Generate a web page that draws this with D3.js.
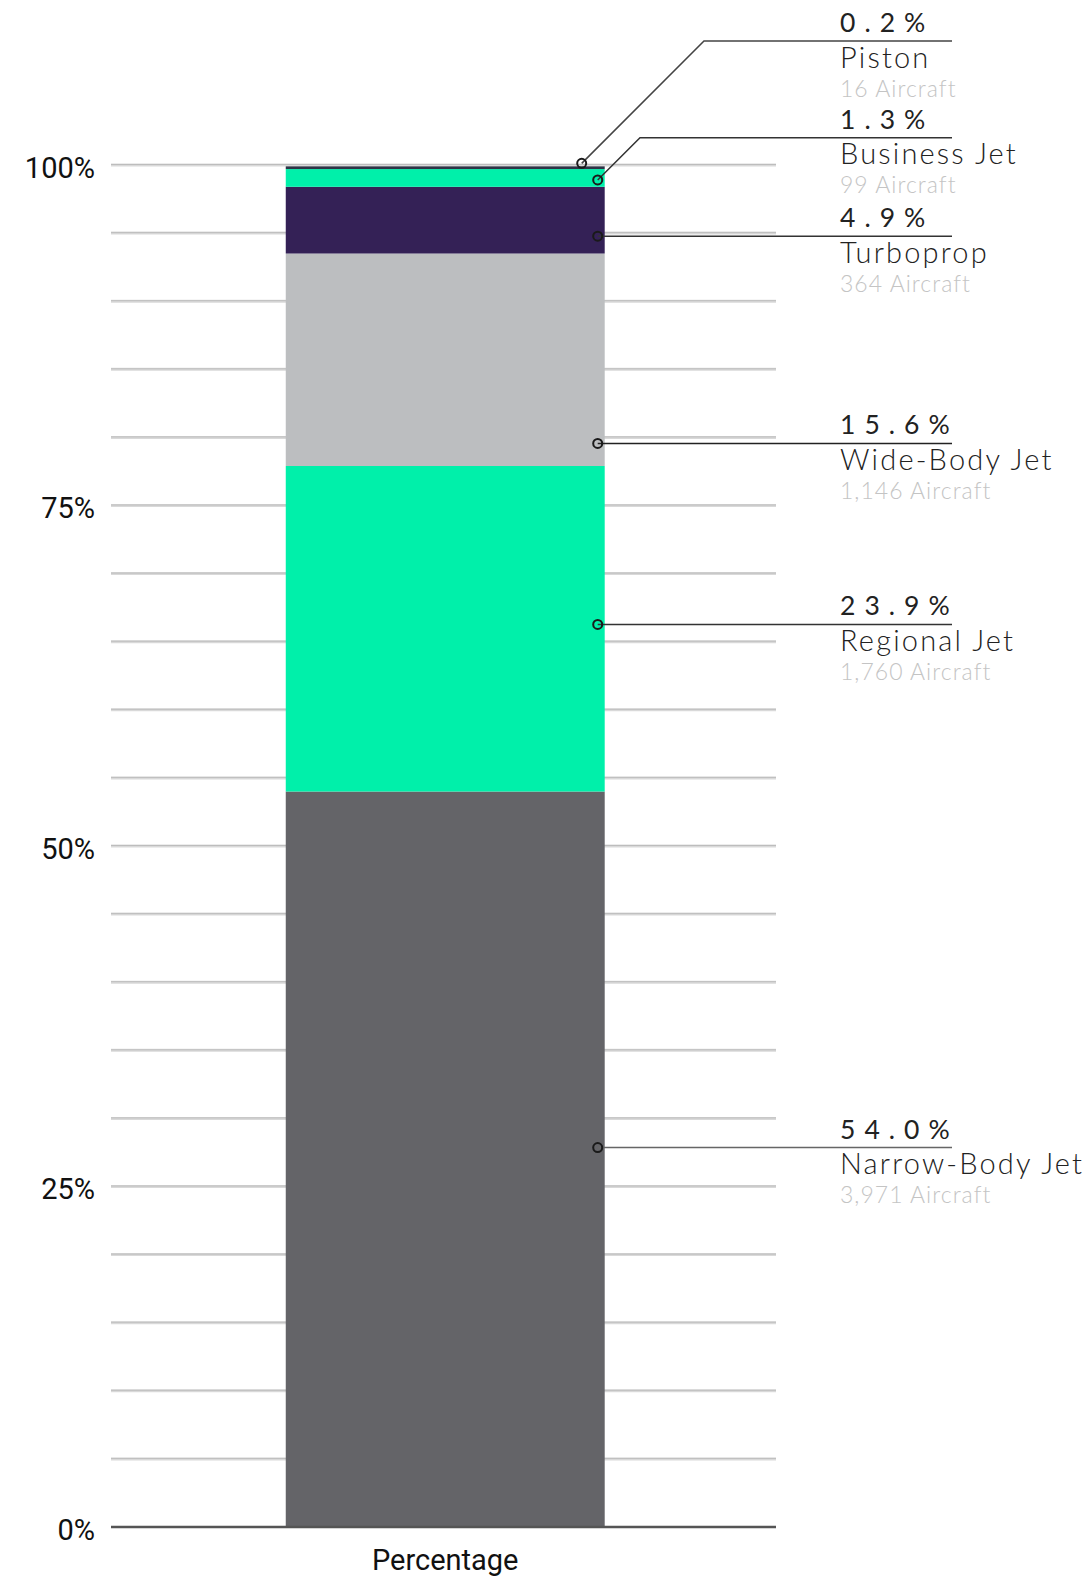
<!DOCTYPE html>
<html>
<head>
<meta charset="utf-8">
<script src="https://cdn.jsdelivr.net/npm/d3@7"></script>
<style>
  html, body { margin: 0; padding: 0; background: #ffffff; }
  svg { display: block; }
</style>
</head>
<body>
<svg id="chart" width="1088" height="1577"></svg>
<script>
// Fleet composition by aircraft type (share of the total fleet)
const categories = ["Narrow-Body Jet", "Regional Jet", "Wide-Body Jet", "Turboprop", "Business Jet", "Piston"];
const shares = [54.0, 23.9, 15.6, 4.9, 1.3, 0.2];
const aircraftCounts = [3971, 1760, 1146, 364, 99, 16];
const colors = ["#646468", "#00f0aa", "#bcbec0", "#342156", "#00f0aa", "#2e3346"];
const barLabel = ["Percentage"];
const yTicks = [0, 25, 50, 75, 100];

// Callout anchors (in axis percent): where the marker dot sits and where the label rule sits
const calloutAt = [27.86, 66.27, 79.56, 94.77, 98.9, 100.12];
const labelAt = [27.86, 66.27, 79.56, 94.77, 102.0, 109.1];

const svg = d3.select("#chart");
const margin = { left: 111, right: 776, top: 165, bottom: 1527 };

const y = d3.scaleLinear().domain([0, 100]).range([margin.bottom, margin.top]);
const x = d3.scaleBand().domain(barLabel).range([margin.left, margin.right])
  .paddingInner(0).paddingOuter(0.5425).align(0.505);

// Minor gridlines every 5%
const gridVals = d3.range(5, 101, 5);
const grid = svg.append("g");
grid.selectAll("line.g1").data(gridVals).join("line")
  .attr("x1", margin.left).attr("x2", margin.right)
  .attr("y1", d => y(d)).attr("y2", d => y(d))
  .attr("stroke", "#d9d9d9").attr("stroke-width", 3);
grid.selectAll("line.g2").data(gridVals).join("line")
  .attr("x1", margin.left).attr("x2", margin.right)
  .attr("y1", d => y(d) - 0.5).attr("y2", d => y(d) - 0.5)
  .attr("stroke", "#bdbdbd").attr("stroke-width", 1);

// Y axis labels
const yAxis = d3.axisLeft(y).tickValues(yTicks).tickFormat(d => d + "%").tickSize(0).tickPadding(16);
const yg = svg.append("g").attr("transform", `translate(${margin.left},0)`).call(yAxis);
yg.select(".domain").remove();
yg.selectAll("text")
  .attr("font-family", "Roboto, sans-serif")
  .attr("font-size", 29)
  .attr("fill", "#111")
  .attr("dy", "0.43em");

// Stacked segments
const stackData = [];
let acc = 0;
shares.forEach((v, i) => { stackData.push({ i, y0: acc, y1: acc + v }); acc += v; });

const bx = x(barLabel[0]);
const bw = x.bandwidth();
svg.append("g").selectAll("rect").data(stackData).join("rect")
  .attr("x", bx).attr("width", bw)
  .attr("y", d => y(d.y1))
  .attr("height", d => y(d.y0) - y(d.y1))
  .attr("fill", d => colors[d.i]);

// Baseline
svg.append("line")
  .attr("x1", margin.left).attr("x2", margin.right)
  .attr("y1", y(0)).attr("y2", y(0))
  .attr("stroke", "#555").attr("stroke-width", 2.5);

// X axis label
svg.append("text")
  .attr("x", bx + bw / 2).attr("y", 1570)
  .attr("text-anchor", "middle")
  .attr("font-family", "Roboto, sans-serif")
  .attr("font-size", 29)
  .attr("fill", "#111")
  .text(barLabel[0]);

// Callouts
const textX = 840;
const ruleEnd = 952;
const dotX = bx + bw - 7;
const elbowX = [null, null, null, null, 640, 704];
const dotShift = [0, 0, 0, 0, 0, -16];
const ruleColor = ["#666", "#333", "#222", "#333", "#333", "#444"];

const fmtCount = d3.format(",");
const callouts = svg.append("g");
categories.forEach((name, i) => {
  const cy = y(calloutAt[i]);
  const ly = y(labelAt[i]);
  const cx = dotX + dotShift[i];
  const path = d3.path();
  if (elbowX[i] !== null) {
    path.moveTo(cx, cy);
    path.lineTo(elbowX[i], ly);
    path.lineTo(ruleEnd, ly);
  } else {
    path.moveTo(cx, cy);
    path.lineTo(ruleEnd, ly);
  }
  callouts.append("path").attr("d", path.toString())
    .attr("fill", "none").attr("stroke", ruleColor[i]).attr("stroke-width", 1.5);
  callouts.append("circle").attr("cx", cx).attr("cy", cy).attr("r", 4.5)
    .attr("fill", "none").attr("stroke", "#1a1a1a").attr("stroke-width", 2);

  callouts.append("text")
    .attr("x", textX).attr("y", ly - 9)
    .attr("font-family", "Lato, sans-serif").attr("font-weight", 400)
    .attr("font-size", 26.5).attr("letter-spacing", "0.34em")
    .attr("fill", "#222")
    .text(shares[i].toFixed(1) + "%");
  callouts.append("text")
    .attr("x", textX).attr("y", ly + 26.5)
    .attr("font-family", "Lato, sans-serif").attr("font-weight", 300)
    .attr("font-size", 29).attr("letter-spacing", "0.075em")
    .attr("fill", "#222")
    .text(name);
  callouts.append("text")
    .attr("x", textX).attr("y", ly + 55.5)
    .attr("font-family", "Lato, sans-serif").attr("font-weight", 300)
    .attr("font-size", 23).attr("letter-spacing", "0.045em")
    .attr("fill", "#c4c4c4")
    .text(fmtCount(aircraftCounts[i]) + " Aircraft");
});
</script>
</body>
</html>
